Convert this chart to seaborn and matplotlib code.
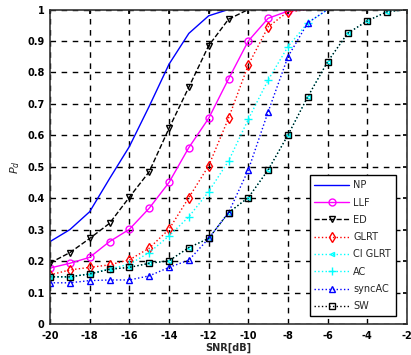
import matplotlib
matplotlib.use("Agg")
import matplotlib.pyplot as plt
import seaborn as sns
import numpy as np
import pandas as pd

sns.set_theme(style="white")
plt.rcParams['font.family'] = ['DejaVu Sans']

snr_np = [-20, -19, -18, -17, -16, -15, -14, -13, -12, -11]
pd_np = [0.262, 0.30, 0.357, 0.462, 0.564, 0.692, 0.826, 0.924, 0.980, 1.0]

snr_llf = [-20, -19, -18, -17, -16, -15, -14, -13, -12, -11, -10, -9, -8, -7]
pd_llf = [0.178, 0.193, 0.212, 0.262, 0.301, 0.368, 0.45, 0.561, 0.654, 0.779, 0.90, 0.972, 0.995, 1.0]

snr_ed = [-20, -19, -18, -17, -16, -15, -14, -13, -12, -11, -10]
pd_ed = [0.194, 0.227, 0.272, 0.32, 0.403, 0.484, 0.622, 0.753, 0.885, 0.969, 1.0]

snr_glrt = [-20, -19, -18, -17, -16, -15, -14, -13, -12, -11, -10, -9, -8, -7]
pd_glrt = [0.156, 0.172, 0.18, 0.188, 0.204, 0.241, 0.301, 0.402, 0.503, 0.654, 0.824, 0.945, 0.993, 1.0]

snr_ciglrt = [-20, -19, -18, -17, -16, -15, -14, -13, -12, -11, -10, -9, -8, -7, -6, -5, -4, -3, -2]
pd_ciglrt = [0.15, 0.15, 0.159, 0.174, 0.18, 0.193, 0.201, 0.243, 0.272, 0.354, 0.402, 0.49, 0.601, 0.723, 0.834, 0.924, 0.964, 0.993, 1.0]

snr_ac = [-20, -19, -18, -17, -16, -15, -14, -13, -12, -11, -10, -9, -8, -7, -6]
pd_ac = [0.15, 0.15, 0.16, 0.175, 0.19, 0.227, 0.28, 0.341, 0.421, 0.518, 0.651, 0.776, 0.882, 0.958, 1.0]

snr_sync = [-20, -19, -18, -17, -16, -15, -14, -13, -12, -11, -10, -9, -8, -7, -6]
pd_sync = [0.131, 0.131, 0.138, 0.14, 0.14, 0.153, 0.18, 0.203, 0.272, 0.354, 0.49, 0.675, 0.85, 0.958, 1.0]

snr_sw = [-20, -19, -18, -17, -16, -15, -14, -13, -12, -11, -10, -9, -8, -7, -6, -5, -4, -3, -2]
pd_sw = [0.15, 0.15, 0.159, 0.174, 0.18, 0.193, 0.201, 0.243, 0.272, 0.354, 0.402, 0.49, 0.601, 0.723, 0.834, 0.924, 0.964, 0.993, 1.0]

x_ticks = [-20, -18, -16, -14, -12, -10, -8, -6, -4, -2]
y_ticks = [0, 0.1, 0.2, 0.3, 0.4, 0.5, 0.6, 0.7, 0.8, 0.9, 1]
y_ticklabels = ['0', '0.1', '0.2', '0.3', '0.4', '0.5', '0.6', '0.7', '0.8', '0.9', '1']

series = [
    ("NP", snr_np, pd_np, "#0000ff", "-", None, 5),
    ("LLF", snr_llf, pd_llf, "#ff00ff", "-", "o", 5),
    ("ED", snr_ed, pd_ed, "#000000", "--", "v", 5),
    ("GLRT", snr_glrt, pd_glrt, "#ff0000", ":", "d", 5),
    ("CI GLRT", snr_ciglrt, pd_ciglrt, "#00ffff", ":", "<", 3),
    ("AC", snr_ac, pd_ac, "#00ffff", ":", "+", 6),
    ("syncAC", snr_sync, pd_sync, "#0000ff", ":", "^", 5),
    ("SW", snr_sw, pd_sw, "#000000", ":", "s", 5),
]

fig = plt.figure(figsize=(4.11, 3.55), dpi=100)
ax = fig.add_axes([50/411, 1-324/355, 357/411, 314.5/355])

for name, xs, ys, col, ls, mk, ms in series:
    df = pd.DataFrame({"snr": xs, "pd": ys})
    me = [i for i, v in enumerate(ys) if v < 0.999]
    kw = dict(linestyle=ls, linewidth=1.0)
    if mk is not None:
        kw.update(marker=mk, markersize=ms, markerfacecolor="none",
                  markeredgecolor=col, markeredgewidth=1.0, markevery=me)
    sns.lineplot(data=df, x="snr", y="pd", color=col, label=name, ax=ax,
                 estimator=None, sort=False, **kw)

ax.set_xlim(-20, -2)
ax.set_ylim(0, 1)
ax.set_xticks(x_ticks)
ax.set_xticklabels([str(t) for t in x_ticks], fontsize=7, fontweight="bold")
ax.set_yticks(y_ticks)
ax.set_yticklabels(y_ticklabels, fontsize=7, fontweight="bold")
ax.grid(True, color="black", linestyle=(0, (4, 4)), linewidth=1.0)
ax.tick_params(direction="in", length=3, top=True, right=True, pad=3, colors="black")
ax.tick_params(axis="x", pad=5)
ax.tick_params(axis="y", pad=4)
for s in ax.spines.values():
    s.set_color("#333333")
    s.set_linewidth(1.2)
ax.set_xlabel("SNR[dB]", fontsize=7, fontweight="bold", labelpad=1)
ax.set_ylabel(r"$P_d$", fontsize=8, fontweight="bold", labelpad=4)

leg = ax.legend(loc="lower right", bbox_to_anchor=(0.969, 0.025), borderaxespad=0,
                fontsize=7, handlelength=3.6, labelspacing=0.75, handletextpad=0.4,
                borderpad=0.5, fancybox=False, framealpha=1, edgecolor="black")
leg.get_frame().set_linewidth(1.0)

fig.savefig("out.png", dpi=100)
